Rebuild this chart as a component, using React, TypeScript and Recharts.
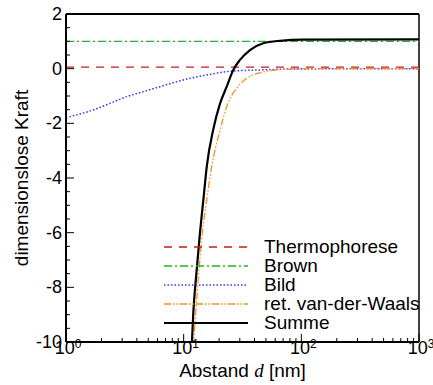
import React from "react";
import {Legend, Line, LineChart, ReferenceLine, XAxis, YAxis} from "recharts";

const FONT = '"Liberation Sans", Arial, sans-serif';

// Werte
const thermoX = [1, 1000];
const thermoY = [0.06, 0.06];

const brownX = [1, 1000];
const brownY = [1.0, 1.0];

const bildX = [1, 1.7, 2.37, 3.3, 4.54, 6.3, 8.7, 12, 16.7, 23, 42, 100, 1000];
const bildY = [-1.79, -1.51, -1.27, -1.02, -0.84, -0.66, -0.48, -0.33, -0.21, -0.11, -0.05, -0.01, 0];

const vdwX = [12.1, 12.65, 13.5, 14.4, 15.7, 17.3, 20.3, 23.9, 28.2, 34.3, 44.5, 61.7, 104, 1000];
const vdwY = [-10.2, -8.95, -7.37, -6.02, -4.8, -3.59, -2.28, -1.24, -0.72, -0.35, -0.15, -0.05, 0, 0];

const summeX = [11.7, 12.07, 12.9, 13.75, 14.7, 15.7, 17.9, 20.3, 23.2, 26.4, 30.1, 36.6, 47.5, 65.8, 104, 1000];
const summeY = [-10.2, -8.95, -7.37, -6.02, -4.8, -3.59, -2.2, -1.3, -0.66, -0.05, 0.32, 0.68, 0.93, 1.02, 1.06, 1.07];

const seriesNames = ["Thermophorese", "Brown", "Bild", "ret. van-der-Waals", "Summe"];

const xTicks = [1, 2, 3, 4, 5, 6, 7, 8, 9, 10, 20, 30, 40, 50, 60, 70, 80, 90,
    100, 200, 300, 400, 500, 600, 700, 800, 900, 1000];
const yTicks = [-10, -9.5, -9, -8.5, -8, -7.5, -7, -6.5, -6, -5.5, -5, -4.5, -4, -3.5,
    -3, -2.5, -2, -1.5, -1, -0.5, 0, 0.5, 1, 1.5, 2];

const toPoints = (xs: number[], ys: number[]) => xs.map((x, i) => ({x: x, y: ys[i]}));

const styles = [
    {color: '#cc1a1a', dash: '8 7', width: 1.3},
    {color: '#16c016', dash: '8 3 2 3', width: 1.3},
    {color: '#3333ff', dash: '1.5 2', width: 1.5},
    {color: '#ff8c1a', dash: '7 2 1.5 2 1.5 2', width: 1.3},
    {color: '#000000', dash: undefined, width: 2.2},
];

const seriesData = [
    toPoints(thermoX, thermoY),
    toPoints(brownX, brownY),
    toPoints(bildX, bildY),
    toPoints(vdwX, vdwY),
    toPoints(summeX, summeY),
];

function XTick(props: any) {
    const {x, y, payload} = props;
    const v = payload.value;
    const exp = Math.log10(v);
    const major = Math.abs(exp - Math.round(exp)) < 1e-9;
    return (
        <g>
            <line x1={x} x2={x} y1={y} y2={y - (major ? 8 : 4)} stroke="#000" strokeWidth={1}/>
            {major &&
                <text x={x + 2} y={y + 12} textAnchor="middle" fontSize={18} fontFamily={FONT} fill="#000">
                    10<tspan dy={-6} fontSize={12}>{Math.round(exp)}</tspan>
                </text>}
        </g>
    );
}

function YTick(props: any) {
    const {x, y, payload} = props;
    const v = payload.value;
    const major = v % 2 === 0;
    return (
        <g>
            <line x1={x} x2={x + (major ? 8 : 4)} y1={y} y2={y} stroke="#000" strokeWidth={1}/>
            {major &&
                <text x={x - 4} y={y + 6} textAnchor="end" fontSize={18} fontFamily={FONT} fill="#000">
                    {v}
                </text>}
        </g>
    );
}

function LegendBox() {
    return (
        <svg width={275} height={100}>
            {seriesNames.map((name, i) => {
                const cy = 10 + i * 19;
                const s = styles[i];
                return (
                    <g key={name}>
                        <line x1={4} x2={88} y1={cy} y2={cy} stroke={s.color}
                              strokeWidth={s.width} strokeDasharray={s.dash}/>
                        <text x={104} y={cy + 6} fontSize={19} fontFamily={FONT} fill="#000">{name}</text>
                    </g>
                );
            })}
        </svg>
    );
}

export default function App() {
    return (
        <div style={{position: 'absolute', left: 0, top: 0, width: 433, height: 385, background: '#fff'}}>
            <LineChart width={433} height={385} margin={{top: 14, right: 14, left: 0, bottom: 0}}>
                <XAxis dataKey="x" type="number" scale="log" domain={[1, 1000]} allowDataOverflow
                       ticks={xTicks} interval={0} height={43} tickSize={0} tickMargin={0}
                       axisLine={{stroke: '#000', strokeWidth: 2}} tickLine={false} tick={<XTick/>}
                       label={(p: any) => {
                           const vb = p.viewBox;
                           return (
                               <text x={vb.x + vb.width / 2} y={vb.y + 35} textAnchor="middle"
                                     fontSize={19} fontFamily={FONT} fill="#000">
                                   Abstand <tspan fontFamily='"Liberation Serif", serif' fontStyle="italic">d</tspan> [nm]
                               </text>
                           );
                       }}/>
                <YAxis type="number" domain={[-10, 2]} allowDataOverflow ticks={yTicks} interval={0}
                       width={66} tickSize={0} tickMargin={0}
                       axisLine={{stroke: '#000', strokeWidth: 2}} tickLine={false} tick={<YTick/>}
                       label={(p: any) => {
                           const vb = p.viewBox;
                           const cy = vb.y + vb.height / 2;
                           return (
                               <text x={28} y={cy} textAnchor="middle" transform={`rotate(-90 28 ${cy})`}
                                     fontSize={19} fontFamily={FONT} fill="#000">
                                   dimensionslose Kraft
                               </text>
                           );
                       }}/>
                <ReferenceLine y={2} stroke="#000" strokeWidth={2}/>
                <ReferenceLine x={1000} stroke="#000" strokeWidth={1.5}/>
                {seriesData.map((d, i) => (
                    <Line key={seriesNames[i]} data={d} dataKey="y" name={seriesNames[i]}
                          type="monotone" stroke={styles[i].color} strokeWidth={styles[i].width}
                          strokeDasharray={styles[i].dash} dot={false} activeDot={false}
                          isAnimationActive={false}/>
                ))}
                <Legend layout="horizontal" verticalAlign="middle" align="center"
                        wrapperStyle={{position: 'absolute', left: 160, top: 237, width: 275, height: 100}}
                        content={() => <LegendBox/>}/>
            </LineChart>
        </div>
    );
}
